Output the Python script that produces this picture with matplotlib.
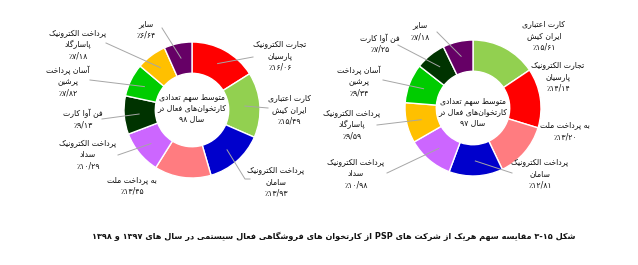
import re
import numpy as np
import matplotlib
matplotlib.use("Agg")
import matplotlib.pyplot as plt

W, H = 638, 265

# companies (same order in both years)
names = [
    ["تجارت الکترونیک", "پارسیان"],
    ["کارت اعتباری", "ایران کیش"],
    ["پرداخت الکترونیک", "سامان"],
    ["به پرداخت ملت"],
    ["پرداخت الکترونیک", "سداد"],
    ["فن آوا کارت"],
    ["آسان پرداخت", "پرشین"],
    ["پرداخت الکترونیک", "پاسارگاد"],
    ["سایر"],
]
colors = ["#FF0000", "#92D050", "#0000CC", "#FF7C80", "#CC66FF",
          "#003300", "#00CC00", "#FFC000", "#660066"]

share_98 = [16.06, 15.49, 13.93, 13.45, 10.29, 9.13, 7.82, 7.18, 6.64]
order_98 = [0, 1, 2, 3, 4, 5, 6, 7, 8]
share_97 = [14.14, 15.61, 12.81, 13.20, 10.98, 7.25, 9.34, 9.59, 7.18]
order_97 = [1, 0, 3, 2, 4, 7, 6, 5, 8]

center_98 = ["متوسط سهم تعدادی", "کارتخوان\u200cهای فعال در", "سال ۹۸"]
center_97 = ["متوسط سهم تعدادی", "کارتخوان\u200cهای فعال در", "سال ۹۷"]
caption = "شکل ۳-۱۵ مقایسه سهم هریک از شرکت های PSP از کارتخوان های فروشگاهی فعال سیستمی در سال های ۱۳۹۷ و ۱۳۹۸"

# label layout in pixels (x center, first line y, leader end points)
lay_98 = {
    0: ((280, 44), [(253, 57)]),
    1: ((289, 98), [(268, 108)]),
    2: ((276, 170), [(245, 179), (250, 179)]),
    3: ((132, 180), []),
    4: ((88, 143), [(118, 155)]),
    5: ((83, 113), [(102, 119)]),
    6: ((68, 70), [(90, 80)]),
    7: ((78, 33), [(106, 43)]),
    8: ((146, 24), [(162, 28)]),
}
lay_97 = {
    0: ((558, 65), []),
    1: ((544, 24), []),
    2: ((540, 162), [(512, 173)]),
    3: ((565, 125), []),
    4: ((356, 162), [(387, 173)]),
    5: ((380, 38), [(398, 45)]),
    6: ((359, 70), [(383, 80)]),
    7: ((352, 113), [(377, 125)]),
    8: ((420, 25), [(437, 32)]),
}

# --- minimal persian shaping (matplotlib has no bidi/shaping) ---
FORMS = {
    'ا': (0xFE8D, 0xFE8E), 'آ': (0xFE81, 0xFE82),
    'ب': (0xFE8F, 0xFE90, 0xFE91, 0xFE92), 'پ': (0xFB56, 0xFB57, 0xFB58, 0xFB59),
    'ت': (0xFE95, 0xFE96, 0xFE97, 0xFE98), 'ج': (0xFE9D, 0xFE9E, 0xFE9F, 0xFEA0),
    'ح': (0xFEA1, 0xFEA2, 0xFEA3, 0xFEA4), 'خ': (0xFEA5, 0xFEA6, 0xFEA7, 0xFEA8),
    'د': (0xFEA9, 0xFEAA), 'ر': (0xFEAD, 0xFEAE), 'ز': (0xFEAF, 0xFEB0),
    'س': (0xFEB1, 0xFEB2, 0xFEB3, 0xFEB4), 'ش': (0xFEB5, 0xFEB6, 0xFEB7, 0xFEB8),
    'ط': (0xFEC1, 0xFEC2, 0xFEC3, 0xFEC4), 'ع': (0xFEC9, 0xFECA, 0xFECB, 0xFECC),
    'ف': (0xFED1, 0xFED2, 0xFED3, 0xFED4), 'ق': (0xFED5, 0xFED6, 0xFED7, 0xFED8),
    'ک': (0xFB8E, 0xFB8F, 0xFB90, 0xFB91), 'گ': (0xFB92, 0xFB93, 0xFB94, 0xFB95),
    'ل': (0xFEDD, 0xFEDE, 0xFEDF, 0xFEE0), 'م': (0xFEE1, 0xFEE2, 0xFEE3, 0xFEE4),
    'ن': (0xFEE5, 0xFEE6, 0xFEE7, 0xFEE8), 'ه': (0xFEE9, 0xFEEA, 0xFEEB, 0xFEEC),
    'و': (0xFEED, 0xFEEE), 'ی': (0xFBFC, 0xFBFD, 0xFBFE, 0xFBFF),
}


def shape(s):
    out = []
    for i, ch in enumerate(s):
        f = FORMS.get(ch)
        if f is None:
            out.append(ch)
            continue
        prev = s[i - 1] if i > 0 else ''
        nxt = s[i + 1] if i + 1 < len(s) else ''
        jp = prev in FORMS and len(FORMS[prev]) == 4
        jn = len(f) == 4 and nxt in FORMS
        if jp and jn:
            c = f[3]
        elif jp:
            c = f[1]
        elif jn:
            c = f[2]
        else:
            c = f[0]
        out.append(chr(c))
    return ''.join(out).replace('\u200c', '')


def fa(s):
    s = shape(s)
    parts = re.findall(r'[A-Za-z0-9۰-۹\-/]+|[^A-Za-z0-9۰-۹\-/]+', s)
    return ''.join(p if re.match(r'[A-Za-z0-9۰-۹]', p) else p[::-1]
                   for p in reversed(parts))


def pct(v):
    return '٪' + ('%.2f' % v).translate(str.maketrans('0123456789.', '۰۱۲۳۴۵۶۷۸۹/'))


plt.rcParams['font.family'] = ['DejaVu Sans Condensed', 'DejaVu Sans']

fig = plt.figure(figsize=(W / 100, H / 100), dpi=100)
ax = fig.add_axes([0, 0, 1, 1])

R = 68
FS = 5.6
GRAY = "#A6A6A6"


def donut(cx, cy, shares, order, lay, ctext, cty):
    vals = [shares[i] for i in order]
    cols = [colors[i] for i in order]
    wedges, _ = ax.pie(vals, colors=cols, startangle=90, counterclock=False,
                       center=(cx, H - cy), radius=R,
                       wedgeprops=dict(width=R * 0.46, edgecolor="white", linewidth=1))
    for w, i in zip(wedges, order):
        (tx, ty), pts = lay[i]
        lines = [fa(t) for t in names[i]] + [pct(shares[i])]
        for k, t in enumerate(lines):
            ax.text(tx, H - (ty + k * 11.5), t, ha="center", va="center",
                    fontsize=FS, color="#111111")
        if pts:
            th = np.deg2rad((w.theta1 + w.theta2) / 2)
            x0 = cx + 0.78 * R * np.cos(th)
            y0 = (H - cy) + 0.78 * R * np.sin(th)
            xs = [x0] + [p[0] for p in pts]
            ys = [y0] + [H - p[1] for p in pts]
            ax.plot(xs, ys, color=GRAY, lw=0.7, zorder=5)
    for k, t in enumerate(ctext):
        ax.text(cx, H - (cty + k * 11), fa(t), ha="center", va="center",
                fontsize=FS, color="#111111")


donut(192, 110, share_98, order_98, lay_98, center_98, 97)
donut(473, 108, share_97, order_97, lay_97, center_97, 101)

ax.text(575, H - 236, fa(caption), ha="right", va="center",
        fontsize=5.9, fontweight="bold", color="#111111")

ax.set_xlim(0, W)
ax.set_ylim(0, H)
ax.set_aspect("equal")
ax.axis("off")

fig.savefig("out.png", dpi=100, facecolor="white")
